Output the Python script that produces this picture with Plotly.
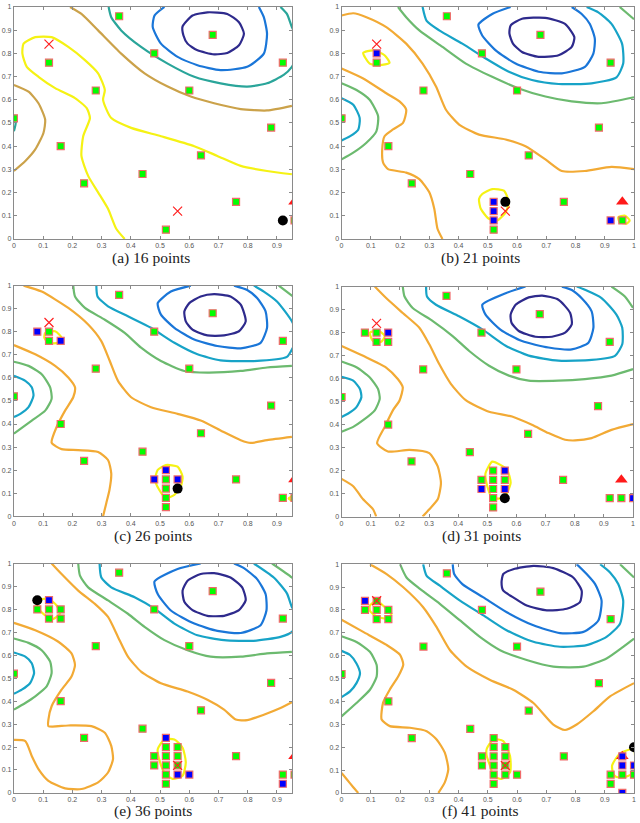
import plotly.graph_objects as go

# colours of the contour levels (parula-like)
NAVY = '#2e2a8c'
BLUE = '#1a76d8'
CYAN = '#17a3c7'
TEAL_A = '#2aa59a'
GREEN = '#6cba6f'
GOLD_A = '#cba24a'
ORANGE = '#f2aa35'
YELLOW = '#f5f214'

# sample points: first 16, then 5 new ones in each later round
initial_x = [0.00, 0.12, 0.16, 0.24, 0.28, 0.36, 0.44, 0.48, 0.52, 0.60, 0.64, 0.68, 0.76, 0.88, 0.92, 0.96]
initial_y = [0.52, 0.76, 0.40, 0.24, 0.64, 0.96, 0.28, 0.80, 0.04, 0.64, 0.36, 0.88, 0.16, 0.48, 0.76, 0.08]
added_x = [
    [],
    [0.12, 0.52, 0.52, 0.52, 0.92],
    [0.08, 0.16, 0.52, 0.48, 0.56],
    [0.16, 0.56, 0.48, 0.56, 1.00],
    [0.12, 0.52, 0.56, 0.60, 0.92],
    [0.08, 0.96, 0.96, 1.00, 0.96],
]
added_y = [
    [],
    [0.80, 0.16, 0.12, 0.08, 0.08],
    [0.80, 0.76, 0.20, 0.16, 0.16],
    [0.80, 0.20, 0.12, 0.12, 0.08],
    [0.84, 0.24, 0.08, 0.08, 0.04],
    [0.84, 0.16, 0.12, 0.12, 0.00],
]
next_x = [0.92, 0.56, 0.56, 0.56, 0.08, 1.00]
next_y = [0.08, 0.16, 0.12, 0.08, 0.84, 0.20]
cross_x = [[0.12, 0.56], [0.12, 0.56], [0.12], [0.12], [0.56], [0.12, 0.56]]
cross_y = [[0.84, 0.12], [0.84, 0.12], [0.84], [0.84], [0.12], [0.84, 0.12]]
tri_x = [0.96]
tri_y = [0.16]
titles = ['(a) 16 points', '(b) 21 points', '(c) 26 points',
          '(d) 31 points', '(e) 36 points', '(f) 41 points']

# contour lines: (colour, xs, ys)
contours_a = [
    (NAVY, [0.577, 0.611, 0.662, 0.730, 0.770, 0.787, 0.770, 0.730, 0.685, 0.628, 0.594, 0.580, 0.577],
           [0.916, 0.963, 0.977, 0.970, 0.934, 0.885, 0.835, 0.802, 0.796, 0.813, 0.842, 0.877, 0.916]),
    (BLUE, [0.515, 0.481, 0.475, 0.503, 0.560, 0.628, 0.707, 0.798, 0.855, 0.866, 0.855, 0.838],
           [1.0, 0.963, 0.913, 0.842, 0.785, 0.749, 0.728, 0.742, 0.799, 0.885, 0.956, 1.0]),
    (TEAL_A, [0.324, 0.333, 0.367, 0.435, 0.526, 0.617, 0.707, 0.798, 0.866, 0.923, 0.951, 0.975],
             [1.0, 0.956, 0.899, 0.828, 0.756, 0.699, 0.671, 0.657, 0.671, 0.707, 0.742, 0.80]),
    (TEAL_A, [0.912, 0.934, 0.951, 0.975], [1.0, 0.970, 0.913, 0.85]),
    (TEAL_A, [0.0, 0.006, 0.0], [0.521, 0.50, 0.464]),
    (GOLD_A, [0.192, 0.231, 0.288, 0.367, 0.447, 0.526, 0.605, 0.685, 0.776, 0.866, 0.951],
             [1.0, 0.970, 0.899, 0.799, 0.714, 0.657, 0.614, 0.585, 0.560, 0.554, 0.574]),
    (GOLD_A, [0.0, 0.050, 0.084, 0.107, 0.101, 0.073, 0.039, 0.0],
             [0.664, 0.635, 0.585, 0.514, 0.457, 0.386, 0.336, 0.293]),
    (YELLOW, [0.379, 0.350, 0.322, 0.288, 0.254, 0.231, 0.237, 0.260, 0.249, 0.209, 0.141, 0.084, 0.044,
              0.029, 0.033, 0.073, 0.129, 0.186, 0.243, 0.288, 0.311, 0.305, 0.333, 0.401, 0.503, 0.617,
              0.696, 0.776, 0.866, 0.951],
             [0.0, 0.044, 0.130, 0.201, 0.272, 0.358, 0.443, 0.521, 0.564, 0.607, 0.650, 0.699, 0.742,
              0.799, 0.842, 0.870, 0.870, 0.828, 0.771, 0.714, 0.642, 0.600, 0.521, 0.479, 0.443, 0.400,
              0.358, 0.315, 0.293, 0.279]),
]
contours_b = [
    (NAVY, [0.578, 0.617, 0.696, 0.764, 0.796, 0.787, 0.742, 0.674, 0.617, 0.586, 0.574, 0.578],
           [0.920, 0.949, 0.953, 0.927, 0.870, 0.828, 0.792, 0.785, 0.806, 0.842, 0.885, 0.920]),
    (BLUE, [0.578, 0.515, 0.468, 0.481, 0.527, 0.595, 0.674, 0.753, 0.832, 0.861, 0.866, 0.849, 0.821, 0.787],
           [1.0, 0.970, 0.924, 0.877, 0.813, 0.756, 0.721, 0.714, 0.742, 0.799, 0.863, 0.927, 0.970, 1.0]),
    (CYAN, [0.277, 0.291, 0.334, 0.413, 0.493, 0.572, 0.651, 0.742, 0.855, 0.940, 0.963, 0.959, 0.923, 0.878, 0.838],
           [1.0, 0.940, 0.899, 0.842, 0.778, 0.721, 0.685, 0.668, 0.671, 0.697, 0.756, 0.842, 0.927, 0.977, 1.0]),
    (CYAN, [0.0, 0.040, 0.062, 0.057, 0.028, 0.0], [0.607, 0.579, 0.521, 0.471, 0.442, 0.425]),
    (GREEN, [0.193, 0.221, 0.266, 0.345, 0.425, 0.515, 0.606, 0.697, 0.787, 0.889, 1.0],
            [1.0, 0.956, 0.899, 0.828, 0.756, 0.699, 0.649, 0.614, 0.593, 0.585, 0.611]),
    (GREEN, [0.951, 1.0], [1.0, 0.947]),
    (GREEN, [0.0, 0.051, 0.096, 0.125, 0.119, 0.085, 0.040, 0.0],
            [0.671, 0.642, 0.600, 0.529, 0.464, 0.415, 0.372, 0.343]),
    (ORANGE, [0.0, 0.040, 0.085, 0.153, 0.221, 0.277, 0.323, 0.357, 0.402, 0.470, 0.561, 0.629, 0.697,
              0.753, 0.832, 0.923, 1.0],
             [0.963, 0.973, 0.956, 0.913, 0.842, 0.756, 0.657, 0.557, 0.493, 0.450, 0.429, 0.400, 0.343,
              0.293, 0.293, 0.311, 0.301]),
    (ORANGE, [0.0, 0.074, 0.153, 0.198, 0.221, 0.210, 0.176, 0.147, 0.139, 0.142, 0.159, 0.221, 0.266,
              0.300, 0.317, 0.328, 0.345],
             [0.735, 0.692, 0.628, 0.593, 0.557, 0.500, 0.472, 0.443, 0.386, 0.329, 0.301, 0.286, 0.258,
              0.201, 0.130, 0.044, 0.0]),
    (YELLOW, [0.074, 0.108, 0.147, 0.164, 0.130, 0.096, 0.074], [0.802, 0.813, 0.792, 0.759, 0.749, 0.756, 0.802]),
    (YELLOW, [0.481, 0.515, 0.555, 0.572, 0.561, 0.533, 0.504, 0.476, 0.470, 0.481],
             [0.194, 0.215, 0.208, 0.158, 0.115, 0.080, 0.087, 0.130, 0.172, 0.194]),
    (YELLOW, [0.946, 0.968, 0.985, 0.974, 0.951, 0.946], [0.094, 0.101, 0.080, 0.066, 0.073, 0.094]),
]
contours_c = [
    (NAVY, [0.583, 0.600, 0.639, 0.685, 0.741, 0.776, 0.793, 0.770, 0.719, 0.662, 0.611, 0.588, 0.583],
           [0.888, 0.924, 0.953, 0.963, 0.953, 0.917, 0.845, 0.802, 0.784, 0.784, 0.809, 0.845, 0.888]),
    (BLUE, [0.605, 0.537, 0.492, 0.503, 0.549, 0.617, 0.696, 0.776, 0.844, 0.866, 0.861, 0.832, 0.798, 0.753],
           [1.0, 0.974, 0.924, 0.874, 0.817, 0.766, 0.738, 0.728, 0.752, 0.817, 0.888, 0.946, 0.981, 1.0]),
    (CYAN, [0.282, 0.286, 0.322, 0.390, 0.469, 0.549, 0.628, 0.707, 0.821, 0.934, 0.951, 0.97, 0.951,
            0.900, 0.855, 0.821],
           [1.0, 0.953, 0.910, 0.867, 0.817, 0.752, 0.702, 0.676, 0.673, 0.691, 0.723, 0.78, 0.845,
            0.931, 0.974, 1.0]),
    (CYAN, [0.0, 0.039, 0.061, 0.067, 0.050, 0.022, 0.0], [0.609, 0.587, 0.559, 0.523, 0.473, 0.444, 0.430]),
    (GREEN, [0.203, 0.209, 0.243, 0.311, 0.379, 0.435, 0.503, 0.583, 0.662, 0.776, 0.866, 0.951],
            [1.0, 0.953, 0.903, 0.852, 0.795, 0.731, 0.673, 0.630, 0.623, 0.630, 0.645, 0.652]),
    (GREEN, [0.906, 0.951, 0.98], [1.0, 0.957, 0.93]),
    (GREEN, [0.0, 0.050, 0.095, 0.124, 0.129, 0.107, 0.061, 0.0],
            [0.670, 0.652, 0.616, 0.559, 0.509, 0.458, 0.415, 0.358]),
    (ORANGE, [0.033, 0.095, 0.186, 0.254, 0.299, 0.328, 0.356, 0.401, 0.469, 0.560, 0.639, 0.707, 0.776,
              0.810, 0.866, 0.951],
             [1.0, 0.974, 0.903, 0.831, 0.759, 0.673, 0.587, 0.516, 0.473, 0.444, 0.415, 0.372, 0.330,
              0.318, 0.330, 0.344]),
    (ORANGE, [0.0, 0.073, 0.141, 0.186, 0.209, 0.203, 0.175, 0.146, 0.129, 0.163, 0.220, 0.288, 0.322,
              0.333, 0.327, 0.316, 0.305],
             [0.742, 0.702, 0.652, 0.602, 0.559, 0.516, 0.458, 0.387, 0.319, 0.291, 0.287, 0.279, 0.244,
              0.186, 0.115, 0.057, 0.0]),
    (YELLOW, [0.107, 0.141, 0.163, 0.152, 0.118, 0.104, 0.107], [0.794, 0.802, 0.774, 0.752, 0.752, 0.774, 0.794]),
    (YELLOW, [0.492, 0.520, 0.560, 0.577, 0.571, 0.549, 0.520, 0.497, 0.483, 0.492],
             [0.201, 0.222, 0.215, 0.172, 0.129, 0.093, 0.079, 0.115, 0.158, 0.201]),
    (YELLOW, [0.957, 0.940, 0.957, 0.98, 0.957], [0.089, 0.077, 0.066, 0.077, 0.089]),
]
contours_d = [
    (NAVY, [0.580, 0.597, 0.642, 0.688, 0.744, 0.784, 0.790, 0.767, 0.722, 0.665, 0.608, 0.583, 0.580],
           [0.878, 0.921, 0.953, 0.961, 0.943, 0.886, 0.836, 0.800, 0.782, 0.782, 0.807, 0.843, 0.878]),
    (BLUE, [0.631, 0.563, 0.483, 0.494, 0.545, 0.619, 0.710, 0.790, 0.847, 0.864, 0.858, 0.824, 0.790, 0.756],
           [1.0, 0.971, 0.921, 0.878, 0.813, 0.763, 0.735, 0.727, 0.756, 0.820, 0.892, 0.949, 0.985, 1.0]),
    (CYAN, [0.290, 0.293, 0.324, 0.403, 0.483, 0.563, 0.642, 0.744, 0.858, 0.938, 0.963, 0.963, 0.943,
            0.892, 0.835, 0.807],
           [1.0, 0.957, 0.921, 0.871, 0.814, 0.743, 0.700, 0.678, 0.681, 0.699, 0.749, 0.821, 0.878,
            0.950, 0.986, 1.0]),
    (CYAN, [0.0, 0.040, 0.063, 0.068, 0.051, 0.023, 0.0], [0.608, 0.591, 0.555, 0.519, 0.476, 0.448, 0.433]),
    (GREEN, [0.210, 0.216, 0.244, 0.313, 0.381, 0.438, 0.506, 0.574, 0.642, 0.744, 0.835, 0.926, 1.0],
            [1.0, 0.957, 0.907, 0.850, 0.785, 0.720, 0.656, 0.613, 0.591, 0.591, 0.598, 0.613, 0.641]),
    (GREEN, [0.926, 0.972, 1.0], [1.0, 0.957, 0.907]),
    (GREEN, [0.0, 0.051, 0.097, 0.125, 0.131, 0.114, 0.074, 0.040, 0.0],
            [0.674, 0.649, 0.605, 0.555, 0.512, 0.462, 0.419, 0.390, 0.369]),
    (ORANGE, [0.114, 0.153, 0.210, 0.267, 0.301, 0.335, 0.375, 0.426, 0.506, 0.585, 0.653, 0.710, 0.767,
              0.801, 0.858, 0.926, 1.0],
             [1.0, 0.950, 0.885, 0.821, 0.749, 0.663, 0.577, 0.506, 0.456, 0.435, 0.399, 0.363, 0.334,
              0.331, 0.341, 0.377, 0.402]),
    (ORANGE, [0.0, 0.074, 0.153, 0.193, 0.210, 0.199, 0.176, 0.148, 0.122, 0.159, 0.233, 0.301, 0.330,
              0.341, 0.330, 0.301, 0.278],
             [0.742, 0.699, 0.648, 0.598, 0.562, 0.505, 0.462, 0.390, 0.319, 0.283, 0.290, 0.276, 0.218,
              0.146, 0.075, 0.032, 0.0]),
    (ORANGE, [0.0, 0.040, 0.074, 0.108, 0.119], [0.164, 0.132, 0.075, 0.032, 0.0]),
    (YELLOW, [0.097, 0.125, 0.148, 0.136, 0.108, 0.097], [0.799, 0.809, 0.785, 0.760, 0.763, 0.799]),
    (YELLOW, [0.517, 0.494, 0.500, 0.517, 0.557, 0.580, 0.568, 0.545, 0.517],
             [0.239, 0.189, 0.132, 0.082, 0.082, 0.146, 0.204, 0.225, 0.239]),
]
contours_e = [
    (NAVY, [0.577, 0.594, 0.639, 0.685, 0.741, 0.781, 0.793, 0.770, 0.719, 0.662, 0.611, 0.583, 0.577],
           [0.882, 0.925, 0.954, 0.958, 0.939, 0.896, 0.840, 0.797, 0.772, 0.772, 0.797, 0.833, 0.882]),
    (BLUE, [0.639, 0.560, 0.481, 0.492, 0.537, 0.617, 0.696, 0.776, 0.844, 0.864, 0.861, 0.832, 0.787, 0.753],
           [1.0, 0.976, 0.922, 0.867, 0.795, 0.738, 0.706, 0.697, 0.731, 0.795, 0.867, 0.932, 0.980, 1.0]),
    (CYAN, [0.293, 0.299, 0.333, 0.413, 0.481, 0.549, 0.628, 0.719, 0.821, 0.912, 0.951, 0.975, 0.951,
            0.934, 0.889, 0.821],
           [1.0, 0.939, 0.896, 0.853, 0.803, 0.738, 0.687, 0.666, 0.663, 0.680, 0.702, 0.76, 0.810,
            0.870, 0.939, 1.0]),
    (CYAN, [0.0, 0.039, 0.061, 0.069, 0.055, 0.027, 0.0], [0.612, 0.594, 0.565, 0.522, 0.478, 0.450, 0.432]),
    (GREEN, [0.220, 0.226, 0.254, 0.322, 0.390, 0.447, 0.515, 0.594, 0.673, 0.776, 0.866, 0.951],
            [1.0, 0.947, 0.896, 0.839, 0.781, 0.724, 0.666, 0.622, 0.594, 0.594, 0.608, 0.615]),
    (GREEN, [0.883, 0.951, 0.98], [1.0, 0.939, 0.90]),
    (GREEN, [0.0, 0.050, 0.095, 0.124, 0.129, 0.112, 0.073, 0.039, 0.0],
            [0.673, 0.654, 0.622, 0.572, 0.522, 0.464, 0.421, 0.392, 0.363]),
    (ORANGE, [0.129, 0.163, 0.220, 0.277, 0.322, 0.356, 0.390, 0.435, 0.503, 0.594, 0.662, 0.719, 0.759,
              0.798, 0.855, 0.912, 0.951],
             [1.0, 0.954, 0.882, 0.824, 0.767, 0.680, 0.594, 0.529, 0.478, 0.442, 0.406, 0.363, 0.320,
              0.317, 0.341, 0.370, 0.395]),
    (ORANGE, [0.0, 0.073, 0.152, 0.197, 0.209, 0.197, 0.163, 0.129, 0.118, 0.118, 0.186, 0.265, 0.311,
              0.333, 0.339, 0.322, 0.288, 0.231, 0.175, 0.118, 0.084, 0.061, 0.039, 0.0],
             [0.741, 0.709, 0.659, 0.608, 0.558, 0.507, 0.450, 0.378, 0.320, 0.291, 0.294, 0.291, 0.262,
              0.205, 0.147, 0.089, 0.046, 0.017, 0.020, 0.053, 0.104, 0.161, 0.226, 0.231]),
    (YELLOW, [0.078, 0.118, 0.146, 0.157, 0.135, 0.107, 0.084, 0.078],
             [0.839, 0.846, 0.817, 0.781, 0.759, 0.774, 0.803, 0.839]),
    (YELLOW, [0.515, 0.549, 0.577, 0.588, 0.577, 0.543, 0.515, 0.497, 0.492, 0.515],
             [0.233, 0.233, 0.197, 0.133, 0.075, 0.061, 0.089, 0.147, 0.190, 0.233]),
]
contours_f = [
    (NAVY, [0.547, 0.553, 0.587, 0.656, 0.724, 0.792, 0.821, 0.815, 0.770, 0.702, 0.633, 0.587, 0.553, 0.547],
           [0.920, 0.957, 0.978, 0.993, 0.983, 0.942, 0.884, 0.834, 0.805, 0.798, 0.819, 0.855, 0.884, 0.920]),
    (BLUE, [0.380, 0.385, 0.413, 0.485, 0.565, 0.656, 0.747, 0.827, 0.878, 0.889, 0.867, 0.838, 0.804],
           [1.0, 0.957, 0.913, 0.855, 0.790, 0.733, 0.699, 0.704, 0.754, 0.841, 0.913, 0.957, 1.0]),
    (CYAN, [0.279, 0.291, 0.336, 0.405, 0.485, 0.564, 0.656, 0.747, 0.838, 0.906, 0.952, 0.963, 0.946,
            0.918, 0.884],
           [1.0, 0.949, 0.906, 0.841, 0.776, 0.711, 0.661, 0.639, 0.646, 0.682, 0.740, 0.841, 0.913,
            0.964, 1.0]),
    (CYAN, [0.0, 0.029, 0.051, 0.063, 0.051, 0.029, 0.0], [0.621, 0.603, 0.566, 0.523, 0.480, 0.444, 0.419]),
    (GREEN, [0.200, 0.222, 0.268, 0.336, 0.405, 0.473, 0.542, 0.633, 0.724, 0.827, 0.906, 0.963, 1.0],
            [1.0, 0.942, 0.892, 0.827, 0.754, 0.682, 0.624, 0.581, 0.552, 0.552, 0.588, 0.639, 0.675]),
    (GREEN, [0.952, 1.0], [1.0, 0.942]),
    (GREEN, [0.0, 0.051, 0.097, 0.120, 0.120, 0.097, 0.051, 0.0],
            [0.685, 0.660, 0.617, 0.559, 0.509, 0.451, 0.393, 0.335]),
    (ORANGE, [0.097, 0.154, 0.211, 0.279, 0.325, 0.371, 0.428, 0.508, 0.587, 0.656, 0.724, 0.764, 0.804,
              0.861, 0.918, 1.0],
             [1.0, 0.957, 0.899, 0.812, 0.725, 0.624, 0.552, 0.494, 0.451, 0.393, 0.299, 0.275, 0.299,
              0.357, 0.422, 0.480]),
    (ORANGE, [0.0, 0.074, 0.154, 0.200, 0.211, 0.194, 0.165, 0.142, 0.137, 0.165, 0.234, 0.291, 0.325,
              0.353, 0.365, 0.353, 0.331],
             [0.757, 0.704, 0.647, 0.604, 0.561, 0.510, 0.452, 0.395, 0.321, 0.292, 0.285, 0.270, 0.234,
              0.176, 0.104, 0.046, 0.0]),
    (ORANGE, [0.0, 0.017, 0.040, 0.057], [0.087, 0.061, 0.025, 0.0]),
    (YELLOW, [0.097, 0.120, 0.148, 0.171, 0.154, 0.120, 0.097, 0.097],
             [0.819, 0.841, 0.812, 0.783, 0.762, 0.772, 0.796, 0.819]),
    (YELLOW, [0.496, 0.519, 0.553, 0.576, 0.576, 0.547, 0.519, 0.508, 0.496, 0.496],
             [0.191, 0.234, 0.227, 0.162, 0.090, 0.061, 0.075, 0.118, 0.163, 0.191]),
    (YELLOW, [0.93, 0.925, 0.95, 0.985, 1.0, 1.0, 0.97, 0.94, 0.93],
             [0.08, 0.12, 0.17, 0.19, 0.19, 0.09, 0.07, 0.07, 0.08]),
]
all_contours = [contours_a, contours_b, contours_c, contours_d, contours_e, contours_f]

W, H = 640, 823
# panel boxes in pixels: left, right, top, bottom, x max shown
panels = [
    (12, 292, 3, 237, 0.952), (341.7, 636, 3, 237, 1.0),
    (12, 292, 284, 516.7, 0.952), (341.7, 635, 285, 517, 1.0),
    (12, 292, 564.3, 795.7, 0.952), (341.7, 636, 565, 795.7, 1.0),
]
title_pos = [(150, 256), (482, 256), (152, 537), (483, 537), (152, 814), (482, 814)]

fig = go.Figure()
layout = {}
old_x, old_y = list(initial_x), list(initial_y)
for k in range(6):
    xa = 'x' if k == 0 else f'x{k + 1}'
    ya = 'y' if k == 0 else f'y{k + 1}'
    # contour lines
    for col, xs, ys in all_contours[k]:
        fig.add_trace(go.Scatter(x=xs, y=ys, mode='lines', xaxis=xa, yaxis=ya,
                                 line=dict(color=col, width=2.2, shape='spline', smoothing=0.6),
                                 hoverinfo='skip', showlegend=False))
    # red triangle
    fig.add_trace(go.Scatter(x=tri_x, y=tri_y, mode='markers', xaxis=xa, yaxis=ya, showlegend=False,
                             marker=dict(symbol='triangle-up', size=11, color='#ff1a1a')))
    # old (green) points
    fig.add_trace(go.Scatter(x=old_x, y=old_y, mode='markers', xaxis=xa, yaxis=ya, showlegend=False,
                             marker=dict(symbol='square', size=7, color='#00ff00',
                                         line=dict(color='#f06a6a', width=1.2))))
    # new (blue) points
    if added_x[k]:
        fig.add_trace(go.Scatter(x=added_x[k], y=added_y[k], mode='markers', xaxis=xa, yaxis=ya,
                                 showlegend=False,
                                 marker=dict(symbol='square', size=7, color='#0000ff',
                                             line=dict(color='#f06a6a', width=1.2))))
    # red crosses
    fig.add_trace(go.Scatter(x=cross_x[k], y=cross_y[k], mode='markers', xaxis=xa, yaxis=ya,
                             showlegend=False,
                             marker=dict(symbol='x-thin', size=9, line=dict(color='#ff2020', width=1.2))))
    # next candidate
    fig.add_trace(go.Scatter(x=[next_x[k]], y=[next_y[k]], mode='markers', xaxis=xa, yaxis=ya,
                             showlegend=False, marker=dict(symbol='circle', size=10, color='black')))

    l, r, t, b, xmax = panels[k]
    ax_style = dict(showline=True, linecolor='#8a8a8a', linewidth=1, mirror='ticks',
                    ticks='inside', ticklen=3, tickcolor='#8a8a8a', showgrid=False, zeroline=False,
                    tickfont=dict(size=7, color='#555555', family='Liberation Sans'),
                    tickmode='array', tickvals=[i / 10 for i in range(11)],
                    ticktext=['0'] + [f'0.{i}' for i in range(1, 10)] + ['1'])
    layout['xaxis' if k == 0 else f'xaxis{k + 1}'] = dict(
        ax_style, domain=[l / W, r / W], range=[0, xmax], anchor=ya)
    layout['yaxis' if k == 0 else f'yaxis{k + 1}'] = dict(
        ax_style, domain=[1 - b / H, 1 - t / H], range=[0, 1], anchor=xa)

    # this round's new points become old (green) ones in the next round
    old_x = old_x + added_x[k]
    old_y = old_y + added_y[k]

annotations = []
for k, (tx, ty) in enumerate(title_pos):
    annotations.append(dict(text=titles[k], x=tx / W, y=1 - ty / H, xref='paper', yref='paper',
                            showarrow=False, xanchor='center', yanchor='middle',
                            font=dict(family='Liberation Serif', size=15.5, color='#222222')))

fig.update_layout(**layout, annotations=annotations, width=W, height=H,
                  margin=dict(l=0, r=0, t=0, b=0),
                  paper_bgcolor='white', plot_bgcolor='white')

fig.write_html("out.html", config={'displayModeBar': False},
               post_script="document.body.style.margin='0';")
